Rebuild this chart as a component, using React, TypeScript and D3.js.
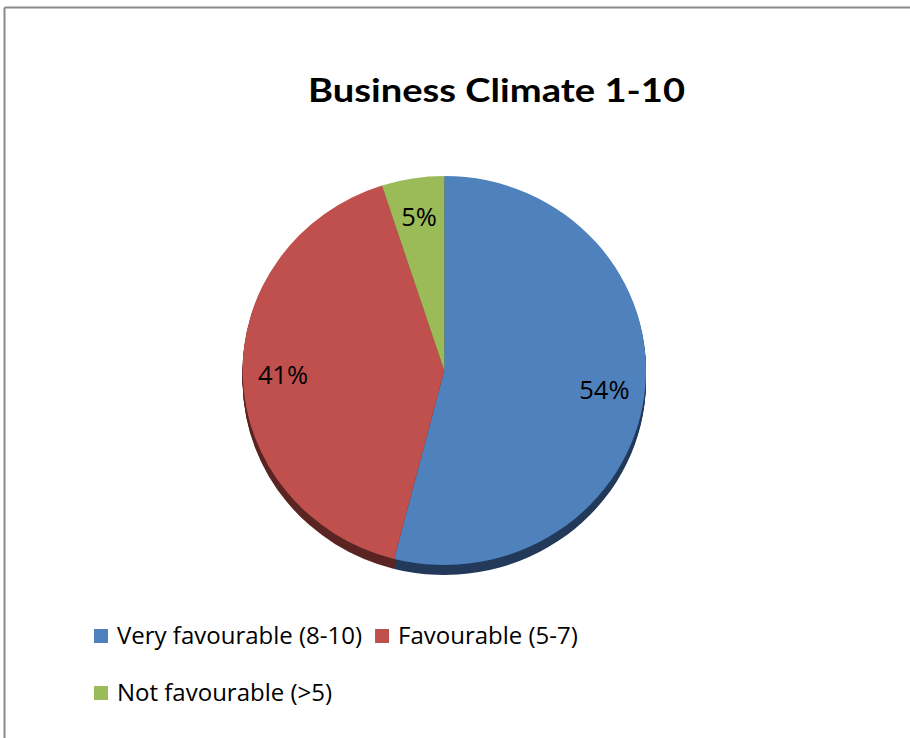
import React from "react";
import * as d3 from "d3";

const title = "Business Climate 1-10";
const categories = ["Very favourable (8-10)", "Favourable (5-7)", "Not favourable (>5)"];
const values = [54, 41, 5];
const topColors = ["#4F81BD", "#C0504D", "#9BBB59"];
const sideColors = ["#22395A", "#5A2422", "#4A5C2A"];

const W = 910;
const H = 738;
const cx = 444.3;
const cy = 370.5;
const rx = 201.7;
const ry = 194.5;
const depth = 10;
const titleFont = "Lato, 'Open Sans', sans-serif";
const font = "'Open Sans', Lato, sans-serif";

function measure(text: string, size: number, weight = "normal") {
  const c = document.createElement("canvas").getContext("2d");
  if (!c) return text.length * size * 0.5;
  c.font = `${weight} ${size}px 'Open Sans'`;
  return c.measureText(text).width;
}

export default function App() {
  const pie = d3.pie<number>().sort(null).startAngle(0).endAngle(2 * Math.PI)(values);
  const arc = d3.arc<d3.PieArcDatum<number>>().innerRadius(0).outerRadius(rx);
  const labelArc = d3.arc<d3.PieArcDatum<number>>().innerRadius(rx * 0.8).outerRadius(rx * 0.8);
  const sy = ry / rx;

  const legendSize = 24;
  const legendRows: { i: number; x: number; y: number }[] = [];
  let lx = 94;
  let row = 0;
  const rowY = [629, 686];
  categories.forEach((c, i) => {
    const w = 23 + measure(c, legendSize);
    if (lx + w > 640 && lx > 94) {
      row += 1;
      lx = 94;
    }
    legendRows.push({ i, x: lx, y: rowY[row] });
    lx += w + 13;
  });

  return (
    <svg width={W} height={H} style={{ position: "absolute", left: 0, top: 0, background: "#fff" }}>
      <line x1={4.5} y1={7.5} x2={W} y2={7.5} stroke="#8a8a8a" strokeWidth={2} />
      <line x1={4.5} y1={7.5} x2={4.5} y2={H} stroke="#8a8a8a" strokeWidth={2} />
      <text
        x={496.5}
        y={101.7}
        textAnchor="middle"
        fontFamily={titleFont}
        fontWeight="bold"
        fontSize={32.5}
        textLength={377}
        lengthAdjust="spacingAndGlyphs"
        fill="#000"
      >
        {title}
      </text>
      {d3.range(1, depth + 1).map((k) => (
        <g key={"l" + k} transform={`translate(${cx},${cy + k}) scale(1,${sy})`}>
          {pie.map((d, i) => (
            <path key={i} d={arc(d) || ""} fill={sideColors[i]} />
          ))}
        </g>
      ))}
      <g transform={`translate(${cx},${cy}) scale(1,${sy})`}>
        {pie.map((d, i) => (
          <path key={"t" + i} d={arc(d) || ""} fill={topColors[i]} />
        ))}
      </g>
      {pie.map((d, i) => {
        const [x, y] = labelArc.centroid(d);
        return (
          <text
            key={"lab" + i}
            x={cx + x}
            y={cy + y * sy}
            dy="0.35em"
            textAnchor="middle"
            fontFamily={font}
            fontSize={25.5}
            fill="#000"
          >
            {`${values[i]}%`}
          </text>
        );
      })}
      {legendRows.map(({ i, x, y }) => (
        <g key={"lg" + i}>
          <rect x={x} y={y} width={14} height={14} fill={topColors[i]} />
          <text x={x + 23} y={y + 15} fontFamily={font} fontSize={legendSize} fill="#000">
            {categories[i]}
          </text>
        </g>
      ))}
    </svg>
  );
}
